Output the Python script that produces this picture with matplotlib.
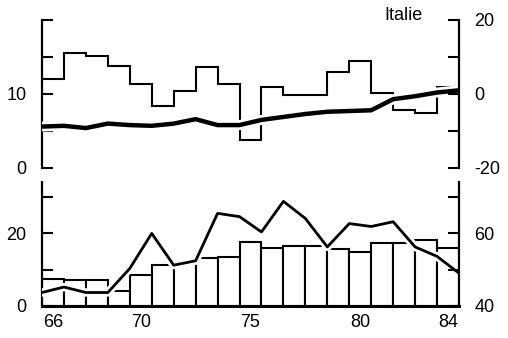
import matplotlib
matplotlib.use("Agg")
from matplotlib import pyplot as plt
import matplotlib.patheffects as pe
import numpy as np

plt.rcParams['font.family'] = ['Liberation Sans', 'DejaVu Sans']

# years 1966..1984, values
years = np.arange(66, 85)
edges = np.arange(65.5, 85.5, 1.0)

# top panel: yearly step series and smooth thick line (left scale 0-20)
top_steps = [12.0, 15.6, 15.1, 13.8, 11.4, 8.4, 10.4, 13.7, 11.4, 3.8,
             11.0, 9.9, 9.9, 13.0, 14.5, 10.2, 7.9, 7.4, 11.0]
top_line = [5.6, 5.7, 5.4, 6.0, 5.8, 5.7, 6.0, 6.6, 5.8, 5.8,
            6.5, 6.9, 7.3, 7.6, 7.7, 7.8, 9.3, 9.7, 10.2, 10.5]

# bottom panel: bars and line (left scale 0-34)
bottom_bars = [7.3, 7.2, 7.2, 4.0, 8.6, 11.3, 11.5, 13.1, 13.3, 17.6,
               15.8, 16.4, 16.4, 15.5, 14.9, 17.2, 17.2, 18.1, 15.8]
bottom_line = [3.7, 5.2, 3.7, 3.7, 10.3, 19.9, 11.2, 12.4, 25.4, 24.5,
               20.3, 28.7, 24.0, 16.2, 22.6, 21.8, 23.1, 16.2, 13.6, 9.0]

fig = plt.figure(figsize=(5.08, 3.38), dpi=100)
W, H = 508.0, 338.0
x0, x1 = 42, 459

def halo(lw):
    return [pe.Stroke(linewidth=lw + 4, foreground='white'), pe.Normal()]

def style_axis(ax, side):
    for s in ax.spines:
        ax.spines[s].set_visible(False)
    ax.spines[side].set_visible(True)
    ax.spines[side].set_linewidth(1.6)
    ax.tick_params(axis='y', direction='in', length=8, width=1.5,
                   labelsize=13, pad=11)
    ax.tick_params(axis='x', length=0)

# ---- top panel
ax1 = fig.add_axes([x0 / W, 1 - 168 / H, (x1 - x0) / W, 148 / H])
ax1r = ax1.twinx()
ax1.set_xlim(65.5, 84.5)
ax1.set_ylim(0, 20)
ax1r.set_ylim(-20, 20)
style_axis(ax1, 'left')
style_axis(ax1r, 'right')
ax1.set_xticks([])
ax1.set_yticks([0, 5, 10, 15, 20], ['0', '', '10', '', ''])
ax1r.set_yticks([-20, -10, 0, 10, 20], ['-20', '', '0', '', '20'])

ax1.stairs(top_steps, edges, baseline=None, color='black', linewidth=1.5)
ax1.plot(edges, top_line, color='black', linewidth=3.2,
         solid_capstyle='butt', path_effects=halo(3.2), zorder=3)

# ---- bottom panel
ax2 = fig.add_axes([x0 / W, 1 - 306 / H, (x1 - x0) / W, 124 / H])
ax2r = ax2.twinx()
ax2.set_xlim(65.5, 84.5)
ax2.set_ylim(0, 34)
ax2r.set_ylim(40, 74)
style_axis(ax2, 'left')
style_axis(ax2r, 'right')
ax2.spines['bottom'].set_visible(True)
ax2.spines['bottom'].set_linewidth(2.2)
ax2.set_yticks([0, 10, 20, 30], ['0', '', '20', ''])
ax2r.set_yticks([40, 50, 60, 70], ['40', '', '60', ''])
ax2.set_xticks([66, 70, 75, 80, 84], ['66', '70', '75', '80', '84'])
ax2.tick_params(axis='x', labelsize=13, pad=6)

ax2.bar(years, bottom_bars, width=1.0, facecolor='white',
        edgecolor='black', linewidth=1.5, zorder=1)
ax2.plot(edges, bottom_line, color='black', linewidth=2.0,
         path_effects=halo(2.0), zorder=3)

fig.text(403 / W, 1 - 16 / H, 'Italie', ha='center', va='center', fontsize=13)

fig.savefig('out.png', dpi=100)
